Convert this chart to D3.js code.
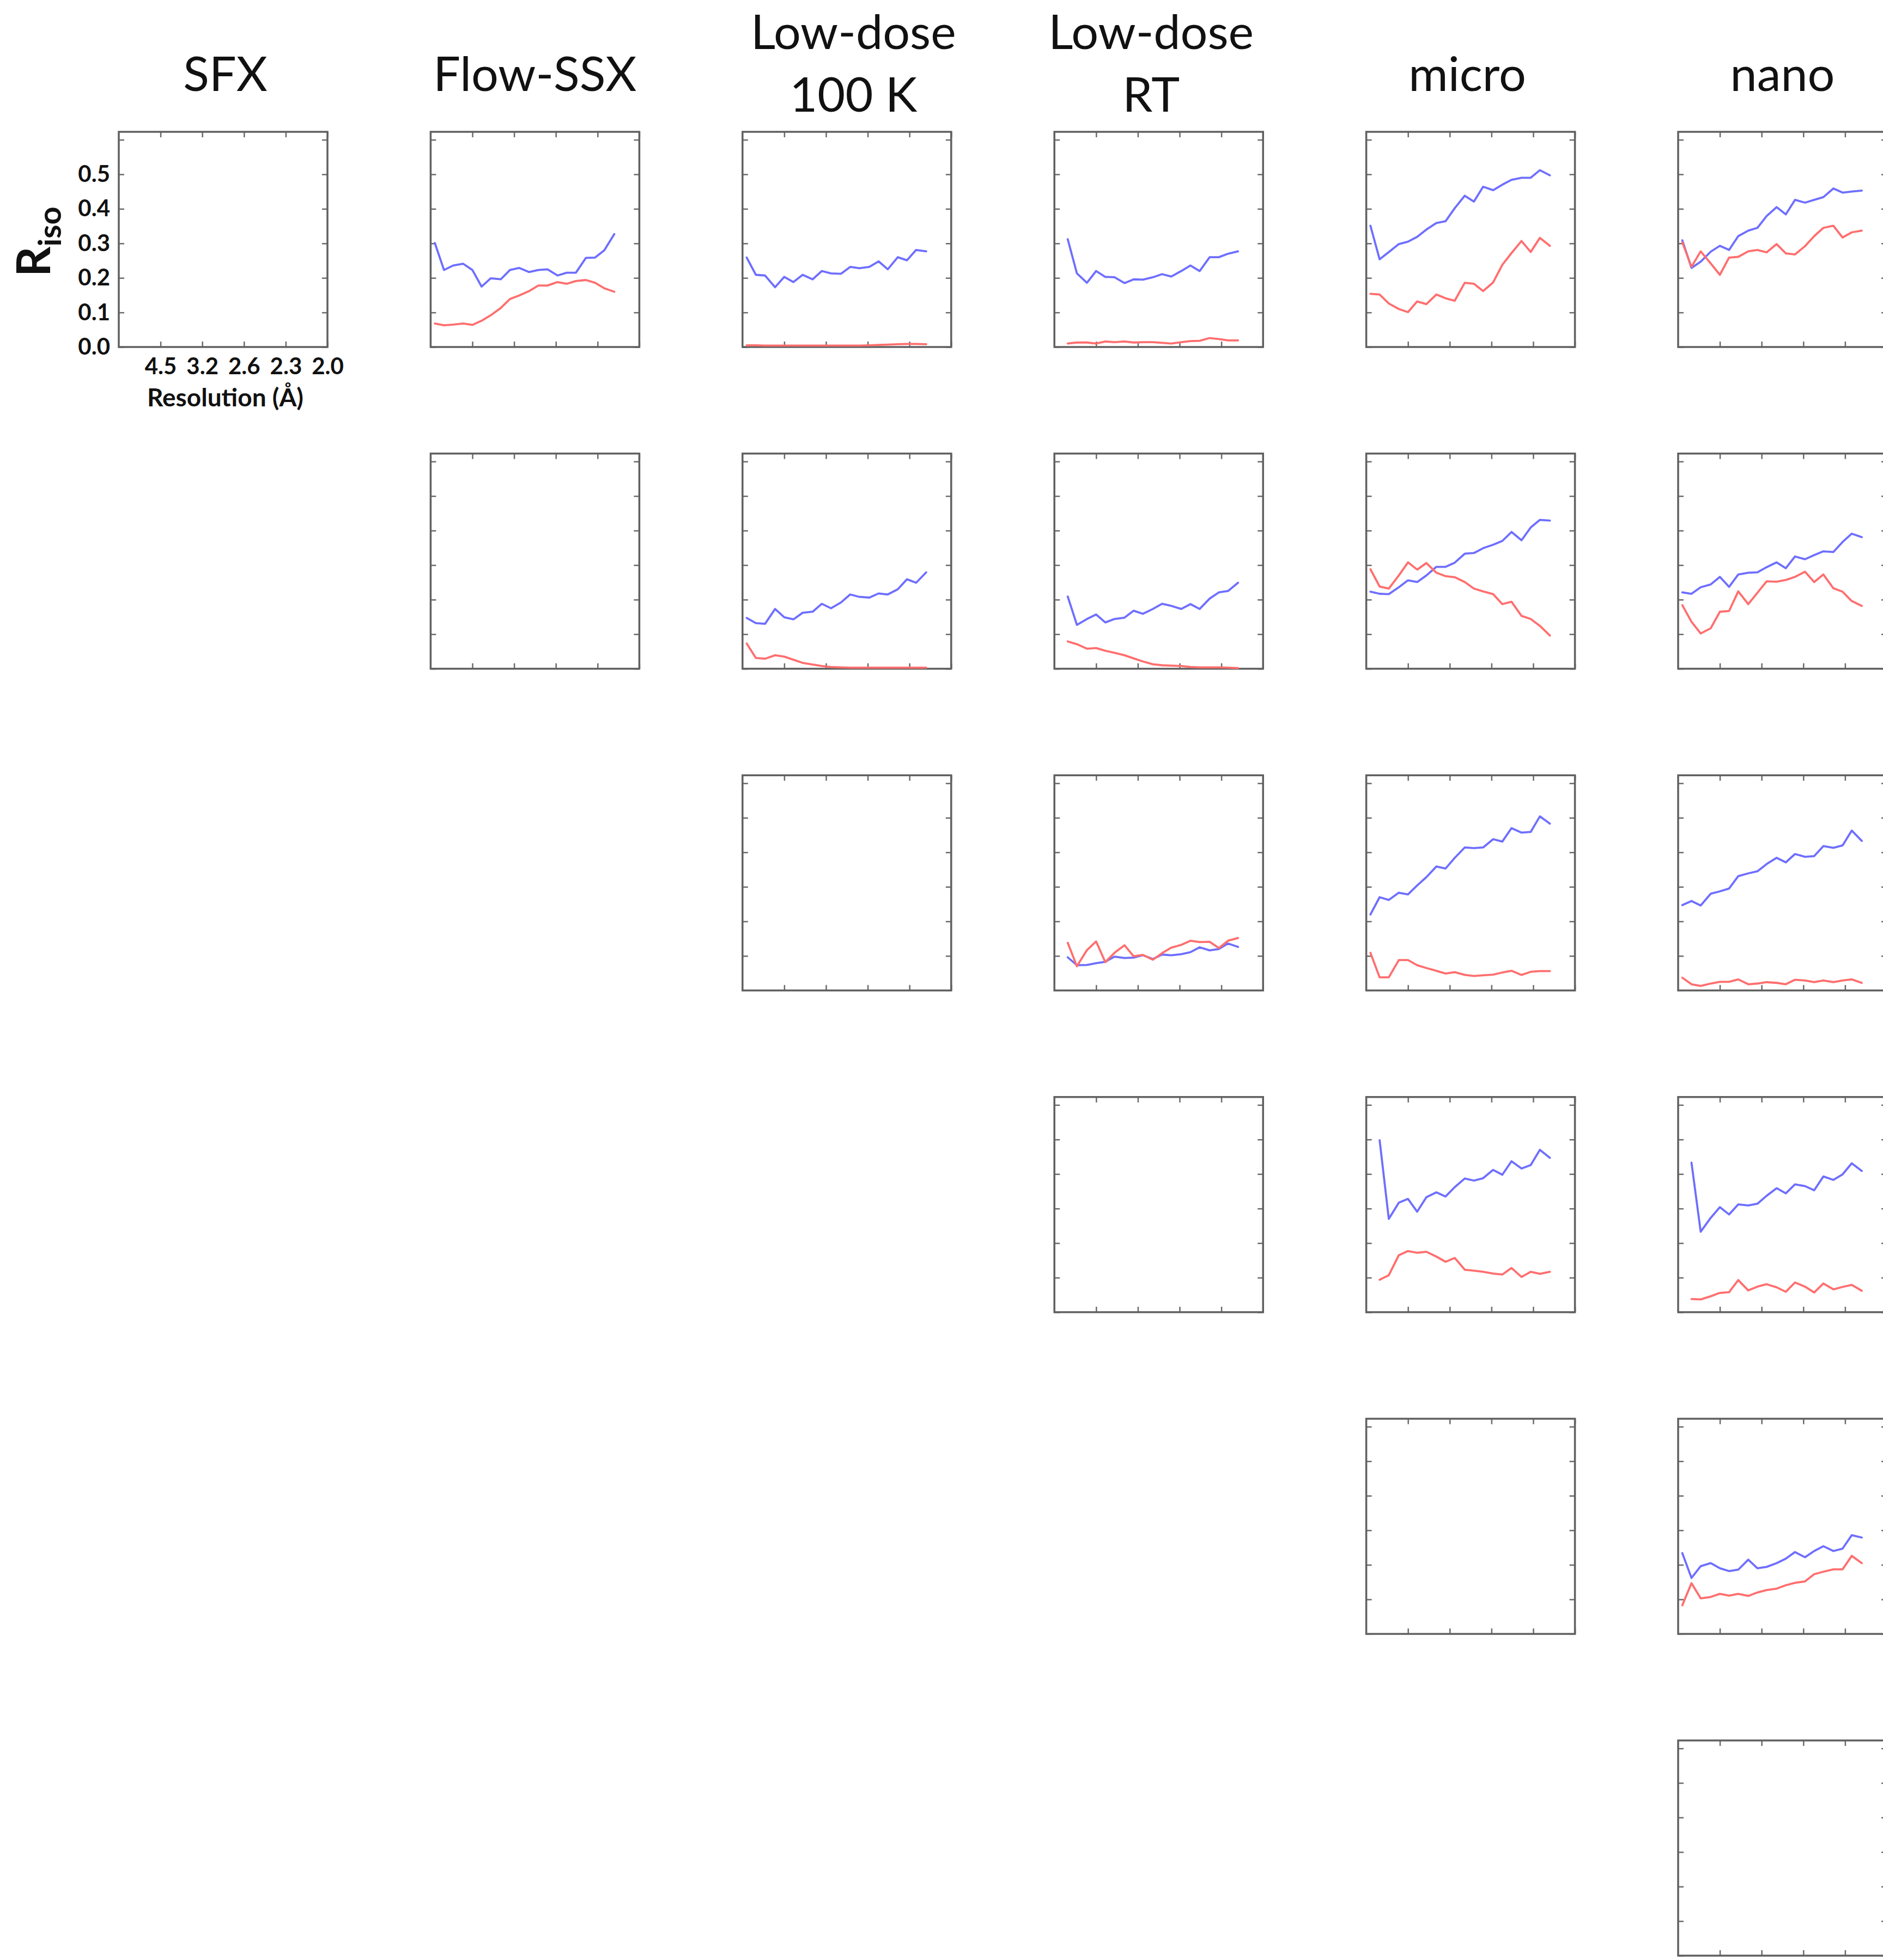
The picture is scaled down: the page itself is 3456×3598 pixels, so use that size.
<!DOCTYPE html>
<html><head><meta charset="utf-8">
<script src="https://cdn.jsdelivr.net/npm/d3@7"></script>
<style>html,body{margin:0;padding:0;background:#fff;overflow:hidden}</style>
</head><body>
<script>
// ---------- categories / tick labels ----------
const titleLines = [["SFX"],["Flow-SSX"],["Low-dose","100 K"],["Low-dose","RT"],["micro"],["nano"]];
// resolution shells, in 1/d^2 (Å^-2)
const invRes = [0.005,0.016,0.027,0.039,0.050,0.061,0.072,0.084,0.095,0.106,0.118,0.129,0.140,0.152,0.163,0.174,0.186,0.197,0.208,0.220];
const xTickValues = [0.05,0.10,0.15,0.20,0.25];
const xTickLabels = ["4.5","3.2","2.6","2.3","2.0"];
const yTickValues = [0,0.1,0.2,0.3,0.4,0.5,0.6];
const yTickLabels = ["0.0","0.1","0.2","0.3","0.4","0.5",""];

// ---------- series (row r = reference dataset, col c = compared dataset) ----------
const r0c1_blue = [0.301,0.223,0.236,0.241,0.223,0.175,0.199,0.196,0.223,0.229,0.217,0.223,0.225,0.207,0.215,0.215,0.258,0.259,0.280,0.327];
const r0c1_red  = [0.068,0.063,0.065,0.068,0.064,0.076,0.092,0.113,0.139,0.149,0.162,0.178,0.178,0.188,0.183,0.191,0.194,0.186,0.170,0.160];
const r0c2_blue = [0.259,0.209,0.207,0.173,0.203,0.188,0.209,0.196,0.220,0.213,0.212,0.232,0.228,0.232,0.248,0.225,0.260,0.251,0.281,0.277];
const r0c2_red  = [0.005,0.005,0.004,0.004,0.004,0.004,0.004,0.004,0.004,0.004,0.004,0.004,0.004,0.005,0.006,0.007,0.008,0.009,0.009,0.008];
const r0c3_blue = [null,0.312,0.213,0.186,0.220,0.203,0.202,0.185,0.196,0.195,0.202,0.211,0.204,0.220,0.236,0.220,0.260,0.260,0.270,0.277];
const r0c3_red  = [null,0.010,0.013,0.013,0.010,0.016,0.014,0.016,0.013,0.014,0.014,0.012,0.010,0.014,0.017,0.018,0.026,0.023,0.019,0.019];
const r0c4_blue = [0.351,0.254,0.275,0.298,0.305,0.319,0.340,0.359,0.364,0.402,0.438,0.421,0.464,0.454,0.470,0.484,0.490,0.490,0.512,0.497];
const r0c4_red  = [0.154,0.152,0.126,0.110,0.101,0.132,0.124,0.152,0.141,0.134,0.186,0.183,0.162,0.187,0.238,0.272,0.307,0.275,0.316,0.293];
const r0c5_blue = [0.309,0.229,0.247,0.276,0.293,0.281,0.321,0.337,0.345,0.379,0.405,0.384,0.426,0.418,0.426,0.434,0.459,0.447,0.450,0.453];
const r0c5_red  = [0.303,0.232,0.277,0.242,0.209,0.259,0.261,0.277,0.281,0.274,0.298,0.271,0.268,0.292,0.321,0.345,0.351,0.317,0.332,0.337];

const r1c2_blue = [0.147,0.132,0.130,0.173,0.149,0.143,0.162,0.165,0.188,0.175,0.192,0.215,0.208,0.206,0.218,0.215,0.230,0.259,0.249,0.279];
const r1c2_red  = [0.073,0.031,0.029,0.039,0.035,0.026,0.017,0.012,0.008,0.005,0.004,0.003,0.003,0.003,0.003,0.003,0.003,0.003,0.003,0.003];
const r1c3_blue = [null,0.209,0.127,0.144,0.157,0.134,0.144,0.148,0.168,0.159,0.173,0.188,0.182,0.173,0.187,0.173,0.203,0.221,0.225,0.249];
const r1c3_red  = [null,0.079,0.071,0.058,0.060,0.052,0.046,0.039,0.030,0.021,0.013,0.010,0.009,0.008,0.005,0.004,0.004,0.004,0.003,0.002];
const r1c4_blue = [0.223,0.217,0.216,0.236,0.256,0.251,0.270,0.295,0.295,0.307,0.333,0.335,0.349,0.359,0.370,0.396,0.372,0.409,0.431,0.429];
const r1c4_red  = [0.288,0.238,0.232,0.270,0.308,0.287,0.306,0.278,0.268,0.265,0.251,0.232,0.224,0.216,0.187,0.194,0.153,0.144,0.124,0.096];
const r1c5_blue = [0.221,0.217,0.236,0.244,0.266,0.237,0.273,0.278,0.279,0.294,0.308,0.291,0.325,0.317,0.329,0.340,0.338,0.367,0.391,0.381];
const r1c5_red  = [0.184,0.136,0.102,0.117,0.165,0.167,0.224,0.187,0.220,0.253,0.252,0.257,0.266,0.281,0.251,0.273,0.233,0.223,0.196,0.182];

const r2c3_blue = [null,0.096,0.073,0.074,0.079,0.083,0.098,0.094,0.095,0.102,0.091,0.104,0.102,0.105,0.111,0.125,0.116,0.120,0.136,0.126];
const r2c3_red  = [null,0.138,0.070,0.117,0.142,0.082,0.109,0.131,0.099,0.103,0.089,0.108,0.124,0.132,0.144,0.140,0.141,0.123,0.144,0.152];
const r2c4_blue = [0.220,0.270,0.262,0.283,0.278,0.304,0.328,0.359,0.353,0.384,0.414,0.412,0.414,0.438,0.431,0.470,0.457,0.459,0.504,0.483];
const r2c4_red  = [0.109,0.038,0.038,0.088,0.088,0.073,0.065,0.057,0.049,0.053,0.045,0.042,0.044,0.046,0.052,0.057,0.045,0.054,0.056,0.056];
const r2c5_blue = [0.247,0.259,0.246,0.280,0.287,0.295,0.331,0.339,0.345,0.366,0.384,0.371,0.395,0.387,0.389,0.418,0.413,0.420,0.463,0.433];
const r2c5_red  = [0.037,0.018,0.013,0.020,0.025,0.025,0.032,0.018,0.020,0.024,0.022,0.018,0.031,0.029,0.024,0.029,0.024,0.029,0.032,0.022];

const r3c4_blue = [null,0.498,0.270,0.317,0.328,0.291,0.333,0.347,0.335,0.362,0.387,0.381,0.388,0.412,0.398,0.437,0.416,0.426,0.470,0.447];
const r3c4_red  = [null,0.094,0.107,0.165,0.177,0.172,0.175,0.161,0.146,0.157,0.123,0.120,0.117,0.112,0.109,0.128,0.102,0.117,0.111,0.117];
const r3c5_blue = [null,0.433,0.233,0.273,0.304,0.283,0.312,0.309,0.314,0.337,0.359,0.344,0.370,0.365,0.353,0.393,0.383,0.399,0.431,0.409];
const r3c5_red  = [null,0.038,0.037,0.046,0.056,0.058,0.093,0.063,0.074,0.081,0.072,0.059,0.086,0.074,0.057,0.083,0.066,0.073,0.079,0.062];

const r4c5_blue = [0.234,0.162,0.196,0.205,0.190,0.182,0.186,0.215,0.190,0.194,0.205,0.218,0.237,0.222,0.240,0.254,0.240,0.247,0.286,0.279];
const r4c5_red  = [0.083,0.147,0.103,0.107,0.116,0.111,0.116,0.110,0.120,0.127,0.131,0.141,0.148,0.152,0.173,0.180,0.187,0.187,0.226,0.205];

// lookup built from the arrays above
const seriesTable = {
  "0-1":[r0c1_blue,r0c1_red], "0-2":[r0c2_blue,r0c2_red], "0-3":[r0c3_blue,r0c3_red],
  "0-4":[r0c4_blue,r0c4_red], "0-5":[r0c5_blue,r0c5_red],
  "1-2":[r1c2_blue,r1c2_red], "1-3":[r1c3_blue,r1c3_red], "1-4":[r1c4_blue,r1c4_red], "1-5":[r1c5_blue,r1c5_red],
  "2-3":[r2c3_blue,r2c3_red], "2-4":[r2c4_blue,r2c4_red], "2-5":[r2c5_blue,r2c5_red],
  "3-4":[r3c4_blue,r3c4_red], "3-5":[r3c5_blue,r3c5_red],
  "4-5":[r4c5_blue,r4c5_red]
};

// ---------- layout ----------
const W = 3456, H = 3598;
const L0 = 218, CS = 572.4, T0 = 242, RS = 590.6, PW = 383, PH = 395, TICK = 10;
const FONT = "Lato, 'Open Sans', sans-serif";
const BLUE = "#6e6eff", RED = "#ff6e6e";
const titleShift = [4, 0, 12, -14, -6, 0];

const svg = d3.select("body").append("svg").attr("width", W).attr("height", H)
  .style("display","block");
svg.append("rect").attr("width", W).attr("height", H).attr("fill", "#fff");

const x = d3.scaleLinear().domain([0, 0.25]).range([0, PW]);
const y = d3.scaleLinear().domain([0, 0.623]).range([PH, 0]);
const line = d3.line().defined(d => d[1] != null).x(d => x(d[0])).y(d => y(d[1]));

// column titles
titleLines.forEach((lines, c) => {
  const cx = L0 + c * CS + PW / 2 + titleShift[c];
  const baselines = lines.length === 1 ? [167] : [90, 205];
  lines.forEach((t, i) => {
    svg.append("text").attr("x", cx).attr("y", baselines[i])
      .attr("text-anchor", "middle").attr("font-family", FONT)
      .attr("font-size", 88).attr("fill", "#111").text(t);
  });
});

function styleAxis(sel) {
  sel.select(".domain").remove();
  sel.selectAll(".tick line").attr("stroke", "#6a6a6a").attr("stroke-width", 2.5);
  sel.attr("font-family", FONT).attr("font-size", 42).attr("font-weight", "bold");
  sel.selectAll(".tick text").attr("fill", "#111");
}

for (let c = 0; c < 6; c++) {
  for (let r = 0; r <= c; r++) {
    const g = svg.append("g").attr("transform", `translate(${L0 + c * CS},${T0 + r * RS})`);
    const showLabels = (r === 0 && c === 0);
    g.append("g")
      .call(d3.axisLeft(y).tickValues(yTickValues).tickSize(-TICK).tickPadding(16)
        .tickFormat((d, i) => showLabels ? yTickLabels[i] : ""))
      .call(styleAxis);
    g.append("g").attr("transform", `translate(${PW},0)`)
      .call(d3.axisRight(y).tickValues(yTickValues).tickSize(-TICK).tickFormat(""))
      .call(styleAxis);
    g.append("g")
      .call(d3.axisTop(x).tickValues(xTickValues).tickSize(-TICK).tickFormat(""))
      .call(styleAxis);
    g.append("g").attr("transform", `translate(0,${PH})`)
      .call(d3.axisBottom(x).tickValues(xTickValues).tickSize(-TICK).tickPadding(20)
        .tickFormat((d, i) => showLabels ? xTickLabels[i] : ""))
      .call(styleAxis);
    g.append("rect").attr("width", PW).attr("height", PH)
      .attr("fill", "none").attr("stroke", "#606060").attr("stroke-width", 3.5);

    const s = seriesTable[`${r}-${c}`];
    if (s) {
      [[s[0], BLUE], [s[1], RED]].forEach(([vals, col]) => {
        g.append("path").datum(invRes.map((v, i) => [v, vals[i]]))
          .attr("d", line).attr("fill", "none").attr("stroke", col)
          .attr("stroke-width", 3.8).attr("stroke-linejoin", "round").attr("stroke-linecap", "round");
      });
    }
  }
}

// axis titles on the SFX panel
const yl = svg.append("text")
  .attr("transform", `translate(92,${T0 + PH / 2 + 4}) rotate(-90)`)
  .attr("text-anchor", "middle").attr("font-family", FONT).attr("font-weight", "bold").attr("fill", "#111");
yl.append("tspan").attr("font-size", 86).text("R");
yl.append("tspan").attr("font-size", 58).attr("dy", 20).text("iso");

svg.append("text").attr("x", L0 + PW / 2 + 4).attr("y", 746)
  .attr("text-anchor", "middle").attr("font-family", FONT).attr("font-weight", "bold")
  .attr("font-size", 46).attr("fill", "#111").text("Resolution (Å)");
</script>
</body></html>
